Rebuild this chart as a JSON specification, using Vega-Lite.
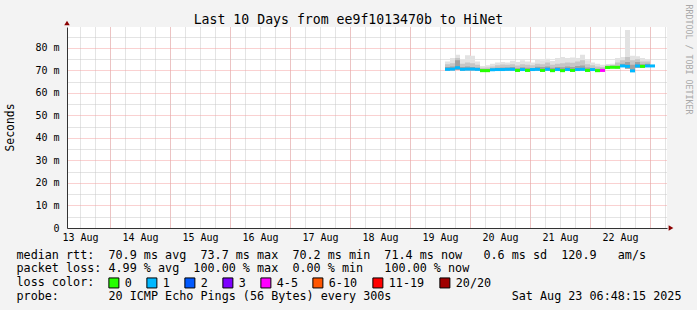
{
  "$schema": "https://vega.github.io/schema/vega-lite/v6.json",
  "width": 600,
  "height": 201,
  "autosize": {"type": "none"},
  "padding": {"left": 67, "top": 27, "right": 30, "bottom": 82},
  "background": "#f3f3f3",
  "config": {
    "view": {"fill": "white", "stroke": null},
    "font": "DejaVu Sans Mono",
    "axis": {"labelFont": "DejaVu Sans Mono", "titleFont": "DejaVu Sans Mono", "labelColor": "#000", "titleColor": "#000", "titleFontWeight": "normal", "labelFlush": false, "labelOverlap": false}
  },
  "title": {"text": "Last 10 Days from ee9f1013470b to HiNet", "font": "DejaVu Sans Mono", "fontSize": 13.2, "fontWeight": "normal", "color": "#000", "anchor": "middle", "frame": "group", "dx": -18.5, "dy": 14, "offset": -19, "baseline": "alphabetic"},
  "data": {"values": [
    {"t": "2025-08-19T14:00", "med": 70.5, "loss": "1", "lo": 70.0, "q1": 71.5, "q2": 72.8, "hi": 74.0},
    {"t": "2025-08-19T16:00", "med": 70.6, "loss": "1", "lo": 70.1, "q1": 71.8, "q2": 73.2, "hi": 75.5},
    {"t": "2025-08-19T18:00", "med": 71.2, "loss": "1", "lo": 70.2, "q1": 74.5, "q2": 75.5, "hi": 77.0},
    {"t": "2025-08-19T20:00", "med": 70.5, "loss": "1", "lo": 70.0, "q1": 71.5, "q2": 73.0, "hi": 74.8},
    {"t": "2025-08-19T22:00", "med": 70.6, "loss": "1", "lo": 70.1, "q1": 71.7, "q2": 73.5, "hi": 76.8},
    {"t": "2025-08-20T00:00", "med": 70.6, "loss": "1", "lo": 70.1, "q1": 71.5, "q2": 73.2, "hi": 76.5},
    {"t": "2025-08-20T02:00", "med": 70.5, "loss": "1", "lo": 70.0, "q1": 71.2, "q2": 72.5, "hi": 74.0},
    {"t": "2025-08-20T04:00", "med": 69.9, "loss": "0", "lo": 69.5, "q1": 70.5, "q2": 71.2, "hi": 72.0},
    {"t": "2025-08-20T06:00", "med": 69.9, "loss": "0", "lo": 69.6, "q1": 70.6, "q2": 71.3, "hi": 72.3},
    {"t": "2025-08-20T08:00", "med": 70.3, "loss": "1", "lo": 69.9, "q1": 70.9, "q2": 71.8, "hi": 73.0},
    {"t": "2025-08-20T10:00", "med": 70.4, "loss": "1", "lo": 69.9, "q1": 71.2, "q2": 72.3, "hi": 73.5},
    {"t": "2025-08-20T12:00", "med": 70.4, "loss": "1", "lo": 69.9, "q1": 71.3, "q2": 72.6, "hi": 73.8},
    {"t": "2025-08-20T14:00", "med": 70.5, "loss": "1", "lo": 70.0, "q1": 71.3, "q2": 72.5, "hi": 73.5},
    {"t": "2025-08-20T16:00", "med": 70.5, "loss": "1", "lo": 70.0, "q1": 71.5, "q2": 72.8, "hi": 74.3},
    {"t": "2025-08-20T18:00", "med": 70.0, "loss": "0", "lo": 69.6, "q1": 71.0, "q2": 72.2, "hi": 73.8},
    {"t": "2025-08-20T20:00", "med": 70.4, "loss": "1", "lo": 69.9, "q1": 71.4, "q2": 72.8, "hi": 74.5},
    {"t": "2025-08-20T22:00", "med": 70.0, "loss": "0", "lo": 69.6, "q1": 71.2, "q2": 72.5, "hi": 74.0},
    {"t": "2025-08-21T00:00", "med": 70.4, "loss": "1", "lo": 69.9, "q1": 71.0, "q2": 72.3, "hi": 73.5},
    {"t": "2025-08-21T02:00", "med": 70.5, "loss": "1", "lo": 70.0, "q1": 71.6, "q2": 73.0, "hi": 75.0},
    {"t": "2025-08-21T04:00", "med": 70.0, "loss": "0", "lo": 69.6, "q1": 71.5, "q2": 72.8, "hi": 74.5},
    {"t": "2025-08-21T06:00", "med": 70.5, "loss": "1", "lo": 70.0, "q1": 71.8, "q2": 73.5, "hi": 75.2},
    {"t": "2025-08-21T08:00", "med": 69.9, "loss": "0", "lo": 69.5, "q1": 71.2, "q2": 72.5, "hi": 74.2},
    {"t": "2025-08-21T10:00", "med": 70.4, "loss": "1", "lo": 69.9, "q1": 71.5, "q2": 73.0, "hi": 75.5},
    {"t": "2025-08-21T12:00", "med": 69.9, "loss": "0", "lo": 69.5, "q1": 71.4, "q2": 73.2, "hi": 76.0},
    {"t": "2025-08-21T14:00", "med": 70.4, "loss": "1", "lo": 69.9, "q1": 71.8, "q2": 73.5, "hi": 75.5},
    {"t": "2025-08-21T16:00", "med": 70.0, "loss": "0", "lo": 69.6, "q1": 71.5, "q2": 73.4, "hi": 75.8},
    {"t": "2025-08-21T18:00", "med": 70.4, "loss": "1", "lo": 69.9, "q1": 72.0, "q2": 74.0, "hi": 75.5},
    {"t": "2025-08-21T20:00", "med": 70.5, "loss": "1", "lo": 70.0, "q1": 72.2, "q2": 74.5, "hi": 77.0},
    {"t": "2025-08-21T22:00", "med": 70.0, "loss": "0", "lo": 69.6, "q1": 71.3, "q2": 72.8, "hi": 74.5},
    {"t": "2025-08-22T00:00", "med": 70.4, "loss": "1", "lo": 69.9, "q1": 71.0, "q2": 72.3, "hi": 73.5},
    {"t": "2025-08-22T02:00", "med": 69.9, "loss": "0", "lo": 69.5, "q1": 70.8, "q2": 71.8, "hi": 73.0},
    {"t": "2025-08-22T04:00", "med": 70.0, "loss": "4-5", "lo": 69.6, "q1": 70.8, "q2": 71.5, "hi": 72.5},
    {"t": "2025-08-22T06:00", "med": 71.3, "loss": "0", "lo": 71.0, "q1": 71.8, "q2": 72.3, "hi": 72.9},
    {"t": "2025-08-22T08:00", "med": 71.4, "loss": "0", "lo": 71.1, "q1": 71.9, "q2": 72.4, "hi": 73.0},
    {"t": "2025-08-22T10:00", "med": 71.4, "loss": "0", "lo": 71.0, "q1": 72.0, "q2": 73.5, "hi": 75.5},
    {"t": "2025-08-22T12:00", "med": 72.0, "loss": "1", "lo": 71.5, "q1": 73.0, "q2": 74.5, "hi": 76.0},
    {"t": "2025-08-22T14:00", "med": 71.8, "loss": "1", "lo": 70.8, "q1": 73.8, "q2": 76.0, "hi": 88.0},
    {"t": "2025-08-22T16:00", "med": 69.8, "loss": "1", "lo": 69.3, "q1": 72.5, "q2": 74.5, "hi": 76.5},
    {"t": "2025-08-22T18:00", "med": 72.0, "loss": "1", "lo": 71.2, "q1": 73.8, "q2": 75.0, "hi": 76.3},
    {"t": "2025-08-22T20:00", "med": 71.8, "loss": "0", "lo": 71.3, "q1": 72.8, "q2": 74.0, "hi": 75.5},
    {"t": "2025-08-22T22:00", "med": 72.0, "loss": "1", "lo": 71.5, "q1": 73.0, "q2": 74.0, "hi": 75.0},
    {"t": "2025-08-23T00:00", "med": 72.0, "loss": "1", "lo": 71.5, "q1": 72.8, "q2": 73.8, "hi": 75.0}
  ]},
  "resolve": {"axis": {"x": "independent", "y": "independent"}},
  "layer": [
    {
      "mark": {"type": "area", "color": "#e2e2e2", "interpolate": "step-after", "opacity": 1},
      "encoding": {
        "x": {"field": "t", "type": "temporal",
          "scale": {"domain": [{"year": 2025, "month": 8, "date": 13, "hours": 6, "minutes": 48}, {"year": 2025, "month": 8, "date": 23, "hours": 6, "minutes": 48}]},
          "axis": {"orient": "bottom", "tickCount": 40, "grid": true, "gridColor": "#c8c8c8", "gridDash": [1, 1], "gridWidth": 1, "labels": false, "ticks": false, "domain": false, "title": null}},
        "y": {"field": "lo", "type": "quantitative", "scale": {"domain": [0, 89.3], "nice": false, "zero": true},
          "axis": {"orient": "left", "values": [5, 15, 25, 35, 45, 55, 65, 75, 85], "grid": true, "gridColor": "#c8c8c8", "gridDash": [1, 1], "gridWidth": 1, "labels": false, "ticks": false, "domain": false, "title": null}},
        "y2": {"field": "hi"}
      }
    },
    {
      "mark": {"type": "area", "color": "#c6c6c6", "interpolate": "step-after", "opacity": 1},
      "encoding": {
        "x": {"field": "t", "type": "temporal",
          "axis": {"orient": "bottom", "tickCount": 10, "grid": true, "gridColor": "#f5a3a3", "gridDash": [1, 1], "gridWidth": 1, "labels": false, "ticks": false, "domain": false, "title": null}},
        "y": {"field": "lo", "type": "quantitative",
          "axis": {"orient": "left", "values": [0, 10, 20, 30, 40, 50, 60, 70, 80], "grid": true, "gridColor": "#f5a3a3", "gridDash": [1, 1], "gridWidth": 1,
            "labelExpr": "datum.value == 0 ? '0\u00a0\u00a0' : datum.value + ' m'", "labelFontSize": 10, "labelPadding": 8,
            "ticks": false, "domain": true, "domainColor": "#333", "title": "Seconds", "titleFontSize": 11.4, "titleAngle": -90, "titleX": -57, "titleY": 100, "titleAlign": "center", "titleBaseline": "middle"}},
        "y2": {"field": "q2"}
      }
    },
    {
      "mark": {"type": "area", "color": "#a2a2a2", "interpolate": "step-after", "opacity": 1},
      "encoding": {
        "x": {"field": "t", "type": "temporal",
          "axis": {"orient": "bottom", "values": [
              {"year": 2025, "month": 8, "date": 13, "hours": 12}, {"year": 2025, "month": 8, "date": 14, "hours": 12},
              {"year": 2025, "month": 8, "date": 15, "hours": 12}, {"year": 2025, "month": 8, "date": 16, "hours": 12},
              {"year": 2025, "month": 8, "date": 17, "hours": 12}, {"year": 2025, "month": 8, "date": 18, "hours": 12},
              {"year": 2025, "month": 8, "date": 19, "hours": 12}, {"year": 2025, "month": 8, "date": 20, "hours": 12},
              {"year": 2025, "month": 8, "date": 21, "hours": 12}, {"year": 2025, "month": 8, "date": 22, "hours": 12}],
            "format": "%d %b", "labelFontSize": 10, "labelPadding": 4, "grid": false, "ticks": false, "domain": true, "domainColor": "#333",
            "title": [
              "median rtt:\u00a0\u00a070.9 ms avg\u00a0\u00a073.7 ms max\u00a0\u00a070.2 ms min\u00a0\u00a071.4 ms now\u00a0\u00a0\u00a00.6 ms sd\u00a0\u00a0120.9\u00a0\u00a0\u00a0am/s",
              "packet loss: 4.99 % avg\u00a0\u00a0100.00 % max\u00a0\u00a00.00 % min\u00a0\u00a0\u00a0100.00 % now",
              "loss color:",
              "probe:\u00a0\u00a0\u00a0\u00a0\u00a0\u00a0\u00a020 ICMP Echo Pings (56 Bytes) every 300s\u00a0\u00a0\u00a0\u00a0\u00a0\u00a0\u00a0\u00a0\u00a0\u00a0\u00a0\u00a0\u00a0\u00a0\u00a0\u00a0\u00a0Sat Aug 23 06:48:15 2025"],
            "titleFontSize": 11.75, "titleAnchor": "start", "titleAlign": "left", "titleBaseline": "alphabetic", "titleX": -51, "titleY": 30, "titleLineHeight": 13.7}},
        "y": {"field": "lo", "type": "quantitative",
          "axis": {"orient": "right", "labels": false, "ticks": false, "domain": false, "grid": false, "title": "RRDTOOL / TOBI OETIKER",
            "titleFontSize": 8.3, "titleColor": "#a8a8a8", "titleAngle": 90, "titleX": 20, "titleY": 32, "titleAlign": "center", "titleBaseline": "middle"}},
        "y2": {"field": "q1"}
      }
    },
    {
      "mark": {"type": "tick", "orient": "horizontal", "thickness": 3, "size": 5, "opacity": 1, "xOffset": 2.5},
      "encoding": {
        "x": {"field": "t", "type": "temporal", "axis": null},
        "y": {"field": "med", "type": "quantitative", "axis": null},
        "color": {"field": "loss", "type": "nominal",
          "scale": {"domain": ["0", "1", "2", "3", "4-5", "6-10", "11-19", "20/20"], "range": ["#26ff00", "#00b8ff", "#0059ff", "#7e00ff", "#ff00ff", "#ff5500", "#ff0000", "#a00000"]},
          "legend": {"orient": "none", "legendX": 41, "legendY": 250, "direction": "horizontal", "title": null, "symbolType": "square", "symbolSize": 100,
            "symbolStrokeColor": "black", "symbolStrokeWidth": 1, "symbolOpacity": 1, "labelFont": "DejaVu Sans Mono", "labelFontSize": 11.75, "labelColor": "black",
            "labelOffset": 5, "columnPadding": 12, "padding": 0, "labelLimit": 0}}
      }
    },
    {
      "data": {"values": [{"t": "2025-08-13T06:48", "v": 89.3}]},
      "mark": {"type": "point", "shape": "triangle-up", "filled": true, "size": 30, "color": "#8b0000", "opacity": 1, "yOffset": -4},
      "encoding": {
        "x": {"field": "t", "type": "temporal", "axis": null},
        "y": {"field": "v", "type": "quantitative", "axis": null}
      }
    },
    {
      "data": {"values": [{"t": "2025-08-23T06:48", "v": 0}]},
      "mark": {"type": "point", "shape": "triangle-right", "filled": true, "size": 30, "color": "#8b0000", "opacity": 1, "xOffset": 4},
      "encoding": {
        "x": {"field": "t", "type": "temporal", "axis": null},
        "y": {"field": "v", "type": "quantitative", "axis": null}
      }
    }
  ]
}
